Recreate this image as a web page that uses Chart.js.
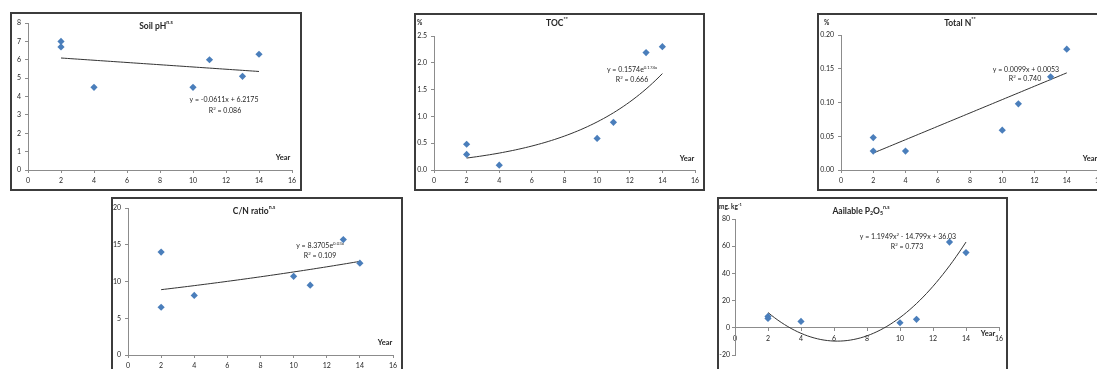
<!DOCTYPE html>
<html>
<head>
<meta charset="utf-8">
<script src="https://cdn.jsdelivr.net/npm/chart.js@4.4.0/dist/chart.umd.min.js"></script>
<style>
body { margin: 0; background: #fff; width: 1097px; height: 369px; overflow: hidden; position: relative; }
.box { position: absolute; border: 2px solid #3c3c3c; box-sizing: border-box; pointer-events: none; }
canvas { position: absolute; }
</style>
</head>
<body>
<script>
// data
const years = [2, 2, 4, 10, 11, 13, 14];
const soilPH = [7.0, 6.7, 4.5, 4.5, 6.0, 5.1, 6.3];
const toc = [0.48, 0.29, 0.09, 0.59, 0.89, 2.19, 2.30];
const totalN = [0.048, 0.028, 0.028, 0.059, 0.098, 0.138, 0.179];
const cnRatio = [14.0, 6.5, 8.1, 10.7, 9.5, 15.7, 12.5];
const p2o5 = [8.4, 6.9, 4.7, 3.7, 6.2, 63.0, 55.3];

// trendline coefficients as printed on the chart
const phTrend = [-0.0611, 6.2175];        // y = ax + b
const tocTrend = [0.1574, 0.174];         // y = a e^(bx)
const nTrend = [0.0099, 0.0053];          // y = ax + b
const cnTrend = [8.3705, 0.03];           // y = a e^(bx)
const pTrend = [1.1949, -14.799, 36.03];  // y = ax^2 + bx + c
const trendRange = [2, 14];

const xTicks = [0, 2, 4, 6, 8, 10, 12, 14, 16];

const FONT = 'Lato, "Open Sans", sans-serif';
const TXT = '#262626';

function trendPoints(fn) {
  const pts = [];
  for (let x = trendRange[0]; x <= trendRange[1] + 1e-9; x += 0.2) pts.push({ x: x, y: fn(x) });
  return pts;
}

// draws a run of text pieces, ['txt', 'sup'|'sub'|''] , centered or left aligned
function drawRich(ctx, segs, x, y, size, bold, align) {
  const w = bold ? 'bold ' : '';
  const parts = segs.map(s => {
    const sz = s[1] ? size * 0.62 : size;
    ctx.font = w + sz + 'px ' + FONT;
    return { t: s[0], kind: s[1], sz: sz, w: ctx.measureText(s[0]).width };
  });
  const total = parts.reduce((a, p) => a + p.w, 0);
  let cx = align === 'left' ? x : x - total / 2;
  ctx.textBaseline = 'middle';
  ctx.textAlign = 'left';
  ctx.fillStyle = TXT;
  parts.forEach(p => {
    ctx.font = w + p.sz + 'px ' + FONT;
    let dy = 0;
    if (p.kind === 'sup') dy = -size * 0.38;
    if (p.kind === 'sub') dy = size * 0.28;
    ctx.fillText(p.t, cx, y + dy);
    cx += p.w;
  });
}

function notesPlugin(notes) {
  return {
    id: 'notes',
    afterDraw(chart) {
      const ctx = chart.ctx;
      ctx.save();
      notes.forEach(n => drawRich(ctx, n.segs, n.x, n.y, n.size, n.bold, n.align));
      ctx.restore();
    }
  };
}

function makePanel(p) {
  const [L, T, W, H] = p.box;
  const cv = document.createElement('canvas');
  cv.width = W; cv.height = H;
  cv.style.left = L + 'px'; cv.style.top = T + 'px';
  cv.style.width = W + 'px'; cv.style.height = H + 'px';
  document.body.appendChild(cv);
  const bx = document.createElement('div');
  bx.className = 'box';
  bx.style.left = L + 'px'; bx.style.top = T + 'px';
  bx.style.width = W + 'px'; bx.style.height = H + 'px';
  document.body.appendChild(bx);

  const axisCommon = {
    grid: { display: true, drawOnChartArea: false, drawTicks: true, tickLength: 3, color: '#8c8c8c' },
    border: { display: true, color: '#8c8c8c', width: 1 },
  };

  new Chart(cv.getContext('2d'), {
    type: 'scatter',
    data: {
      datasets: [
        {
          data: years.map((x, i) => ({ x: x, y: p.values[i] })),
          pointStyle: 'rectRot',
          pointRadius: 3.6,
          backgroundColor: '#4a7ebb',
          borderColor: '#4a7ebb',
          borderWidth: 0,
          order: 0,
        },
        {
          type: 'line',
          data: trendPoints(p.trend),
          borderColor: '#333333',
          borderWidth: 1,
          pointRadius: 0,
          tension: 0,
          fill: false,
          order: 1,
        },
      ],
    },
    options: {
      responsive: false,
      devicePixelRatio: 1,
      animation: false,
      events: [],
      layout: { padding: { left: 0, top: p.plot[1], right: p.plot[2], bottom: p.plot[4] || 0 } },
      plugins: { legend: { display: false }, tooltip: { enabled: false }, title: { display: false } },
      scales: {
        x: {
          ...axisCommon,
          type: 'linear',
          position: p.xAtZero ? { y: 0 } : 'bottom',
          min: 0, max: 16,
          afterBuildTicks: s => { s.ticks = xTicks.map(v => ({ value: v })); },
          afterFit: s => { s.height = p.plot[3]; },
          ticks: { color: TXT, font: { family: FONT, size: 7 }, padding: 4, maxRotation: 0 },
        },
        y: {
          ...axisCommon,
          type: 'linear',
          position: 'left',
          min: p.y[0], max: p.y[1],
          afterBuildTicks: s => {
            const t = [];
            for (let v = p.y[0]; v <= p.y[1] + 1e-9; v += p.y[2]) t.push({ value: v });
            s.ticks = t;
          },
          afterFit: s => { s.width = p.plot[0]; },
          ticks: {
            color: TXT, font: { family: FONT, size: 7 }, padding: p.yPad || 4,
            callback: v => Number(v).toFixed(p.y[3]),
          },
        },
      },
    },
    plugins: [notesPlugin(p.notes)],
  });
}

const panels = [
  {
    box: [10, 12, 292, 179], plot: [18, 11, 10, 21],
    values: soilPH, y: [0, 8, 1, 0],
    trend: x => phTrend[0] * x + phTrend[1],
    notes: [
      { segs: [['Soil pH', ''], ['n.s', 'sup']], x: 146, y: 14, size: 8.5, bold: true },
      { segs: [['Year', '']], x: 273, y: 146, size: 7.5, bold: true },
      { segs: [['y = -0.0611x + 6.2175', '']], x: 214, y: 88, size: 7 },
      { segs: [['R', ''], ['2', 'sup'], [' = 0.086', '']], x: 215, y: 99, size: 7 },
    ],
  },
  {
    box: [414, 13, 291, 178], plot: [20, 23, 10, 21],
    values: toc, y: [0, 2.5, 0.5, 1],
    trend: x => tocTrend[0] * Math.exp(tocTrend[1] * x),
    notes: [
      { segs: [['%', '']], x: 3, y: 10, size: 6.5, bold: true, align: 'left' },
      { segs: [['TOC', ''], ['**', 'sup']], x: 143, y: 10, size: 8.5, bold: true },
      { segs: [['Year', '']], x: 273, y: 146, size: 7.5, bold: true },
      { segs: [['y = 0.1574e', ''], ['0.174x', 'sup']], x: 218, y: 57, size: 7 },
      { segs: [['R', ''], ['2', 'sup'], [' = 0.666', '']], x: 218, y: 67, size: 7 },
    ],
  },
  {
    box: [817, 13, 292, 178], plot: [24, 22, 10, 21],
    values: totalN, y: [0, 0.2, 0.05, 2],
    trend: x => nTrend[0] * x + nTrend[1],
    notes: [
      { segs: [['%', '']], x: 7, y: 10, size: 6.5, bold: true, align: 'left' },
      { segs: [['Total N', ''], ['**', 'sup']], x: 143, y: 10, size: 8.5, bold: true },
      { segs: [['Year', '']], x: 273, y: 146, size: 7.5, bold: true },
      { segs: [['y = 0.0099x + 0.0053', '']], x: 209, y: 57, size: 7 },
      { segs: [['R', ''], ['2', 'sup'], [' = 0.740', '']], x: 208, y: 66, size: 7 },
    ],
  },
  {
    box: [111, 197, 292, 179], plot: [17, 11, 10, 21],
    values: cnRatio, y: [0, 20, 5, 0],
    trend: x => cnTrend[0] * Math.exp(cnTrend[1] * x),
    notes: [
      { segs: [['C/N ratio', ''], ['n.s', 'sup']], x: 143, y: 14, size: 8.5, bold: true },
      { segs: [['Year', '']], x: 274, y: 146, size: 7.5, bold: true },
      { segs: [['y = 8.3705e', ''], ['0.03x', 'sup']], x: 209, y: 49, size: 7 },
      { segs: [['R', ''], ['2', 'sup'], [' = 0.109', '']], x: 209, y: 59, size: 7 },
    ],
  },
  {
    box: [717, 197, 291, 179], plot: [18, 22, 9, 0, 21], xAtZero: true, yPad: 2,
    values: p2o5, y: [-20, 80, 20, 0],
    trend: x => pTrend[0] * x * x + pTrend[1] * x + pTrend[2],
    notes: [
      { segs: [['mg. kg', ''], ['-1', 'sup']], x: 2, y: 10, size: 6.5, bold: true, align: 'left' },
      { segs: [['Aailable P', ''], ['2', 'sub'], ['O', ''], ['5', 'sub'], ['n.s', 'sup']], x: 144, y: 14, size: 8.5, bold: true },
      { segs: [['Year', '']], x: 271, y: 137, size: 7.5, bold: true },
      { segs: [['y = 1.1949x', ''], ['2', 'sup'], [' - 14.799x + 36.03', '']], x: 191, y: 40, size: 7 },
      { segs: [['R', ''], ['2', 'sup'], [' = 0.773', '']], x: 190, y: 50, size: 7 },
    ],
  },
];

panels.forEach(makePanel);
</script>
</body>
</html>
